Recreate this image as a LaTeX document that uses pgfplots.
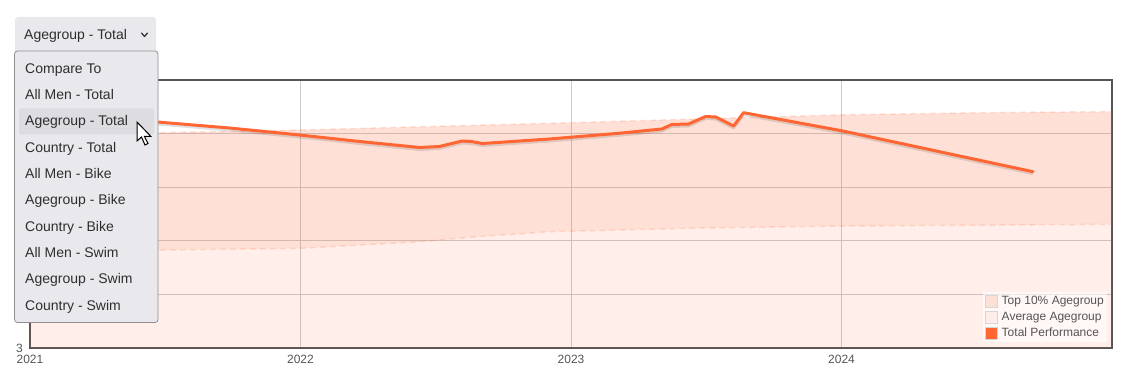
\documentclass[border=0pt]{standalone}
\usepackage{fontspec}
\setmainfont{Liberation Sans}
\usepackage{pgfplots}
\pgfplotsset{compat=1.18}
\usepackage{pgfplotstable}
\usepgfplotslibrary{fillbetween}
\definecolor{perf}{HTML}{FF6633}
\definecolor{topfill}{HTML}{FCE0D6}
\definecolor{avgfill}{HTML}{FDEEE9}
\definecolor{frame}{HTML}{555555}
\definecolor{menubg}{HTML}{E9E9ED}
\definecolor{menuhl}{HTML}{DCDCE1}
\definecolor{menubd}{HTML}{8E8E93}
\definecolor{menutxt}{HTML}{2E2E30}
\definecolor{ticktxt}{HTML}{555555}
\definecolor{legbd}{HTML}{D6D6D6}

\pgfplotstableread{
x y
2021.000 7.263
2021.258 7.244
2021.472 7.216
2021.738 7.104
2021.996 6.974
2022.218 6.853
2022.439 6.741
2022.513 6.759
2022.598 6.862
2022.631 6.853
2022.672 6.815
2022.919 6.899
2023.177 7.006
2023.336 7.086
2023.373 7.170
2023.435 7.179
2023.472 7.263
2023.498 7.319
2023.535 7.310
2023.601 7.142
2023.638 7.390
2024.000 7.054
2024.708 6.289
}\perfdata

\pgfplotstableread{
x y
2021.000 6.983
2021.480 7.017
2021.996 7.067
2022.919 7.192
2024.000 7.351
2024.579 7.394
2025.000 7.409
}\upperdata

\pgfplotstableread{
x y
2021.000 4.810
2021.480 4.828
2021.996 4.860
2022.439 4.983
2022.661 5.080
2022.919 5.170
2023.472 5.239
2024.000 5.276
2025.000 5.308
}\lowerdata

\begin{document}
\begin{tikzpicture}[x=1pt,y=1pt]
\begin{axis}[
  at={(30pt,29pt)}, anchor=south west,
  width=1082pt, height=268pt, scale only axis,
  xmin=2021, xmax=2025, ymin=3, ymax=8,
  xtick={2021,2022,2023,2024}, xticklabels={2021,2022,2023,2024},
  ytick={3,4,5,6,7,8}, yticklabels={3,{},{},{},{},{}},
  major tick length=0pt,
  grid=major, grid style={draw=black!20, line width=1pt},
  axis line style={draw=frame, line width=2pt},
  tick label style={font=\fontsize{12}{14}\selectfont, text=ticktxt},
  xticklabel style={anchor=north, inner sep=0pt, yshift=-7pt},
  yticklabel style={anchor=east, inner sep=0pt, xshift=-7pt},
  legend style={at={(1,0)}, anchor=south east, xshift=-5pt, yshift=6pt,
    draw=none, fill=white, fill opacity=0.6, text opacity=1,
    font=\fontsize{12}{14}\selectfont, text=ticktxt, inner sep=2pt, row sep=2.5pt,
    nodes={inner sep=1pt, text height=9pt, text depth=2.5pt},
    /tikz/every odd column/.append style={column sep=3pt}},
  legend cell align=left,
  legend image code/.code={\draw[#1, draw=legbd, line width=1pt, fill opacity=1] (0pt,-6pt) rectangle (12pt,6pt);},
]
\addplot[forget plot, draw=none, name path=up] table {\upperdata};
\addplot[forget plot, draw=none, name path=lo] table {\lowerdata};
\path[name path=bot] (axis cs:2021,3) -- (axis cs:2025,3);
\addplot[forget plot, fill=perf, fill opacity=0.2, draw=none] fill between[of=up and lo];
\addplot[forget plot, fill=perf, fill opacity=0.11, draw=none] fill between[of=lo and bot];
\addplot[forget plot, draw=perf, opacity=0.18, line width=1.5pt, dash pattern=on 6pt off 4pt] table {\upperdata};
\addplot[forget plot, draw=perf, opacity=0.18, line width=1.5pt, dash pattern=on 6pt off 4pt] table {\lowerdata};
\addplot[forget plot, draw=black, opacity=0.12, line width=3pt, yshift=-2pt, line join=round] table {\perfdata};
\addplot[forget plot, draw=perf, line width=3pt, line join=round, line cap=round] table {\perfdata};
\addlegendimage{fill=topfill}
\addlegendentry{Top 10\% Agegroup}
\addlegendimage{fill=avgfill}
\addlegendentry{Average Agegroup}
\addlegendimage{fill=perf}
\addlegendentry{Total Performance}
\end{axis}
% dropdown overlay
\begin{scope}[font=\fontsize{14}{16}\selectfont]
\fill[menubg, rounded corners=3pt] (15,360) rectangle (156,322);
\node[anchor=base west, inner sep=0pt, text=menutxt] at (24,337.7) {Agegroup - Total};
\draw[menutxt, line width=1.2pt, line cap=round, line join=round] (141.5,344)--(144.5,340.5)--(147.5,344);
\filldraw[fill=menubg, draw=menubd, line width=0.8pt, rounded corners=3pt] (14.5,326) rectangle (158,54.5);
\fill[menuhl, rounded corners=2pt] (19,268.5) rectangle (154,242.5);
\foreach \t/\yy in {Compare To/303, All Men - Total/277, Agegroup - Total/251, Country - Total/224, All Men - Bike/198, Agegroup - Bike/172, Country - Bike/145, All Men - Swim/119, Agegroup - Swim/93, Country - Swim/66}
  \node[anchor=base west, inner sep=0pt, text=menutxt] at (25,\yy) {\t};
\filldraw[fill=white, draw=black, line width=1pt, line join=miter] (137,255)--(137,236)--(141.5,240)--(145,232)--(148,233.5)--(144.5,240.5)--(151,240.5)--cycle;
\end{scope}
\pgfresetboundingbox
\path[use as bounding box] (0,0) rectangle (1130,377);
\end{tikzpicture}
\end{document}
